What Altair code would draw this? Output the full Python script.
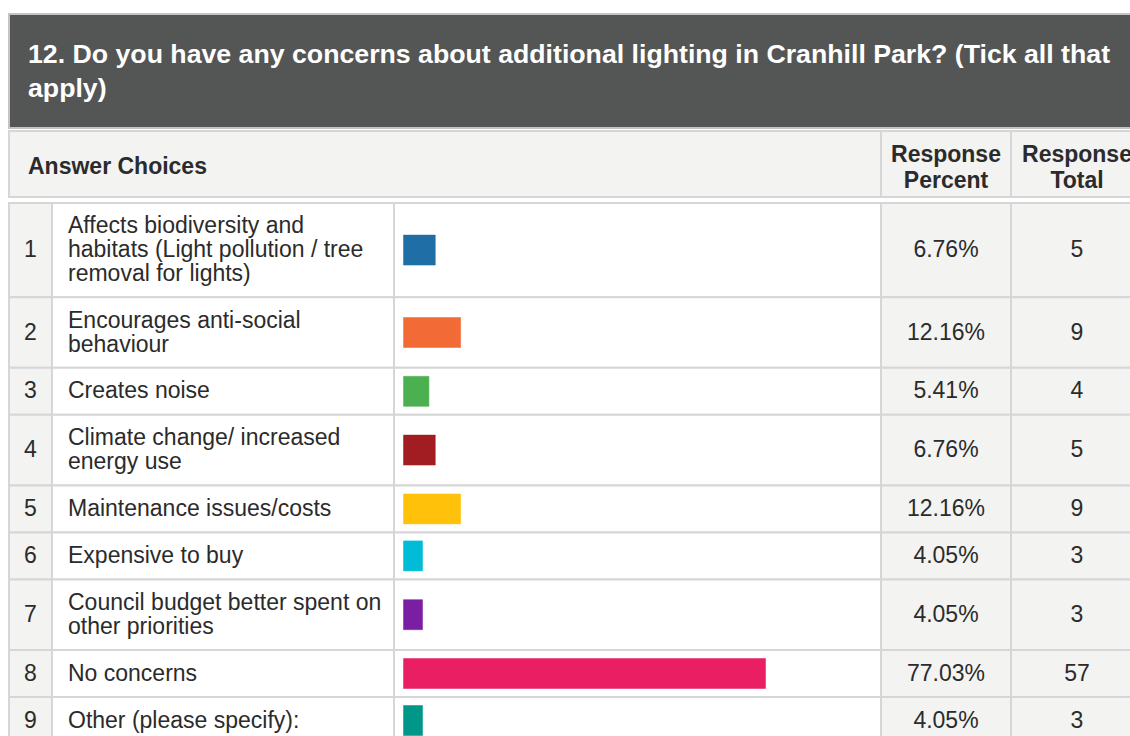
import altair as alt
import pandas as pd

# ---------------- data ----------------
title_lines = [
    "12. Do you have any concerns about additional lighting in Cranhill Park? (Tick all that",
    "apply)",
]
header_answer = "Answer Choices"
header_pct = ["Response", "Percent"]
header_total = ["Response", "Total"]

numbers = [1, 2, 3, 4, 5, 6, 7, 8, 9]
choices = [
    "Affects biodiversity and\nhabitats (Light pollution / tree\nremoval for lights)",
    "Encourages anti-social\nbehaviour",
    "Creates noise",
    "Climate change/ increased\nenergy use",
    "Maintenance issues/costs",
    "Expensive to buy",
    "Council budget better spent on\nother priorities",
    "No concerns",
    "Other (please specify):",
]
percents = [6.76, 12.16, 5.41, 6.76, 12.16, 4.05, 4.05, 77.03, 4.05]
pct_labels = ["6.76%", "12.16%", "5.41%", "6.76%", "12.16%", "4.05%", "4.05%", "77.03%", "4.05%"]
totals = [5, 9, 4, 5, 9, 3, 3, 57, 3]
bar_colors = ["#1f6ea6", "#f26a35", "#4caf50", "#a11d22", "#ffc10a",
              "#00bcd6", "#7b1fa2", "#e91e63", "#009688"]

# ---------------- layout ----------------
W, H = 1130, 736
FONT = "Liberation Sans"
FS = 23
LH = 24
edges = [9, 52, 394, 881, 1011, 1142]
band_top, band_bottom = 14, 128
head_top, head_bottom = 131, 197
rows_top = 203
GRAY = "#f3f3f2"
BORDER = "#d6d6d6"
TXT = "#2b2b2b"

row_tops, row_bots, row_lines = [], [], []
y = rows_top
for c in choices:
    n = c.count("\n") + 1
    h = 23.4 + 23.6 * n
    row_tops.append(y)
    row_bots.append(y + h)
    row_lines.append(n)
    y += h

# cells
cells = []
cells.append(dict(x=edges[0], x2=1142, y=band_top, y2=band_bottom, fill="#545655", stroke="#c4c4c4"))
cells.append(dict(x=edges[0], x2=edges[3], y=head_top, y2=head_bottom, fill=GRAY, stroke=BORDER))
cells.append(dict(x=edges[3], x2=edges[4], y=head_top, y2=head_bottom, fill=GRAY, stroke=BORDER))
cells.append(dict(x=edges[4], x2=edges[5], y=head_top, y2=head_bottom, fill=GRAY, stroke=BORDER))
col_fills = [GRAY, "white", "white", GRAY, GRAY]
for t, b in zip(row_tops, row_bots):
    for k in range(5):
        cells.append(dict(x=edges[k], x2=edges[k + 1], y=t, y2=b, fill=col_fills[k], stroke=BORDER))
cells_df = pd.DataFrame(cells)

xs = alt.Scale(domain=[0, W], range=[0, W])
ys = alt.Scale(domain=[0, H], range=[0, H])

cell_layer = alt.Chart(cells_df).mark_rect(strokeWidth=2).encode(
    x=alt.X("x:Q", scale=xs, axis=None),
    x2="x2:Q",
    y=alt.Y("y:Q", scale=ys, axis=None),
    y2="y2:Q",
    fill=alt.Fill("fill:N", scale=None),
    stroke=alt.Stroke("stroke:N", scale=None),
)

# title text
title_df = pd.DataFrame(dict(text=title_lines, x=[28, 28], y=[63, 97]))
title_layer = alt.Chart(title_df).mark_text(
    align="left", baseline="alphabetic", font=FONT, fontSize=26.7, fontWeight="bold", color="white"
).encode(x=alt.X("x:Q", scale=xs, axis=None), y=alt.Y("y:Q", scale=ys, axis=None), text="text:N")

# header text
hdr_left_df = pd.DataFrame([dict(text=header_answer, x=28, y=174)])
hdr_c = []
for i, (a, b) in enumerate(zip(header_pct, header_total)):
    hdr_c.append(dict(text=a, x=946, y=162 + 26 * i))
    hdr_c.append(dict(text=b, x=1077, y=162 + 26 * i))
hdr_center_df = pd.DataFrame(hdr_c)
hdr_left = alt.Chart(hdr_left_df).mark_text(
    align="left", baseline="alphabetic", font=FONT, fontSize=FS, fontWeight="bold", color=TXT
).encode(x=alt.X("x:Q", scale=xs, axis=None), y=alt.Y("y:Q", scale=ys, axis=None), text="text:N")
hdr_center = alt.Chart(hdr_center_df).mark_text(
    align="center", baseline="alphabetic", font=FONT, fontSize=FS, fontWeight="bold", color=TXT, clip=True
).encode(x=alt.X("x:Q", scale=xs, axis=None), y=alt.Y("y:Q", scale=ys, axis=None), text="text:N")

# rows data
rows_df = pd.DataFrame(dict(
    num=[str(n) for n in numbers],
    choice=choices,
    pct=percents,
    pct_label=pct_labels,
    total=[str(t) for t in totals],
    color=bar_colors,
    top=row_tops,
    bot=row_bots,
    nlines=row_lines,
))
rows_df["mid"] = (rows_df["top"] + rows_df["bot"]) / 2
rows_df["text_y"] = rows_df["mid"] - (rows_df["nlines"] - 1) * LH / 2
rows_df["bar_y"] = rows_df["mid"] - 15
rows_df["bar_y2"] = rows_df["mid"] + 15
rows_df["zero"] = 0.0
rows_df["num_x"] = 30.5
rows_df["choice_x"] = 68
rows_df["pct_x"] = 946
rows_df["total_x"] = 1077

base = alt.Chart(rows_df)

def text_layer(field, xfield, yfield, align):
    return base.mark_text(
        align=align, baseline="middle", font=FONT, fontSize=FS, color=TXT,
        lineBreak="\n", lineHeight=LH, clip=True
    ).encode(
        x=alt.X(f"{xfield}:Q", scale=xs, axis=None),
        y=alt.Y(f"{yfield}:Q", scale=ys, axis=None),
        text=f"{field}:N",
    )

num_layer = text_layer("num", "num_x", "mid", "center")
choice_layer = text_layer("choice", "choice_x", "text_y", "left")
pct_layer = text_layer("pct_label", "pct_x", "mid", "center")
total_layer = text_layer("total", "total_x", "mid", "center")

bar_layer = base.mark_rect(strokeWidth=1, strokeOpacity=0.5).encode(
    x=alt.X("zero:Q", scale=alt.Scale(domain=[0, 100], range=[403.5, 873.5]), axis=None),
    x2="pct:Q",
    y=alt.Y("bar_y:Q", scale=ys, axis=None),
    y2="bar_y2:Q",
    fill=alt.Fill("color:N", scale=None),
    stroke=alt.Stroke("color:N", scale=None),
)

chart = alt.layer(
    cell_layer, title_layer, hdr_left, hdr_center,
    num_layer, choice_layer, pct_layer, total_layer, bar_layer,
).resolve_scale(x="independent").properties(
    width=W, height=H, padding=0, autosize=alt.AutoSizeParams(type="none"), background="white"
).configure_view(stroke=None)

chart.save("out.html", embed_options={"renderer": "svg", "actions": False})
